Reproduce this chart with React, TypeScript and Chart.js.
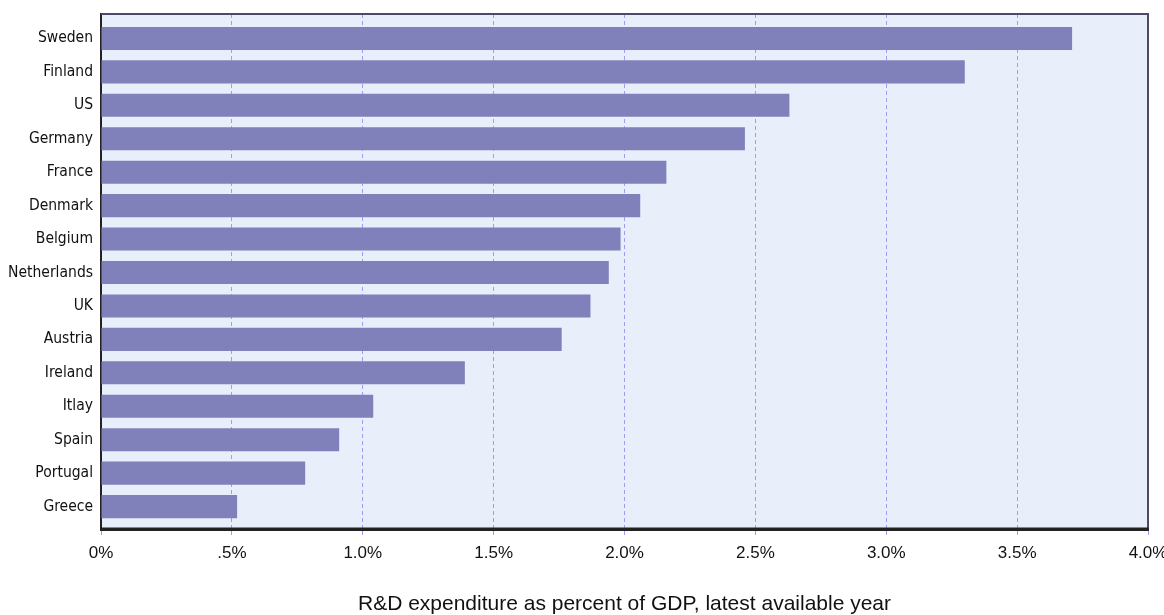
import React, { useEffect, useRef } from "react";
import { Chart, registerables } from "chart.js";

Chart.register(...registerables);

const categories = [
  "Sweden", "Finland", "US", "Germany", "France", "Denmark", "Belgium",
  "Netherlands", "UK", "Austria", "Ireland", "Itlay", "Spain", "Portugal", "Greece",
];
const rdShare = [3.71, 3.3, 2.63, 2.46, 2.16, 2.06, 1.985, 1.94, 1.87, 1.76, 1.39, 1.04, 0.91, 0.78, 0.52];
const xTickLabels = ["0%", ".5%", "1.0%", "1.5%", "2.0%", "2.5%", "3.0%", "3.5%", "4.0%"];
const axisTitle = "R&D expenditure as percent of GDP, latest available year";

const BAR = "#8080ba";
const PLOT_BG = "#e8eefa";
const GRID = "#a09cf0";

const frame = {
  id: "frame",
  beforeDraw(chart: any) {
    const { ctx, chartArea: a } = chart;
    ctx.save();
    ctx.fillStyle = PLOT_BG;
    ctx.fillRect(a.left, a.top, a.right - a.left, a.bottom - a.top);
    ctx.restore();
  },
  afterDraw(chart: any) {
    const { ctx, chartArea: a } = chart;
    ctx.save();
    ctx.strokeStyle = "#4a4a6a";
    ctx.lineWidth = 2;
    ctx.beginPath();
    ctx.moveTo(a.left, a.top);
    ctx.lineTo(a.right, a.top);
    ctx.lineTo(a.right, a.bottom);
    ctx.stroke();
    ctx.strokeStyle = "#222";
    ctx.lineWidth = 3;
    ctx.beginPath();
    ctx.moveTo(a.left, a.bottom);
    ctx.lineTo(a.right + 1, a.bottom);
    ctx.stroke();
    ctx.restore();
  },
};

export default function App() {
  const ref = useRef<HTMLCanvasElement>(null);
  useEffect(() => {
    if (!ref.current) return;
    const chart = new Chart(ref.current, {
      type: "bar",
      data: {
        datasets: [
          {
            data: rdShare.map((v, i) => ({ x: v, y: i })),
            backgroundColor: BAR,
            borderWidth: 0,
            barPercentage: 0.69,
            categoryPercentage: 1,
          },
        ],
      },
      options: {
        indexAxis: "y",
        animation: false,
        responsive: true,
        maintainAspectRatio: false,
        layout: { padding: { top: 14, right: 16, left: 0, bottom: 0 } },
        plugins: { legend: { display: false }, tooltip: { enabled: false } },
        scales: {
          x: {
            type: "linear",
            min: 0,
            max: 4,
            ticks: {
              stepSize: 0.5,
              padding: 8,
              color: "#111",
              font: { family: "'Liberation Sans', Arial, sans-serif", size: 17 },
              callback: (_v: any, i: number) => xTickLabels[i],
              maxRotation: 0,
            },
            grid: {
              color: GRID,
              lineWidth: 1,
              tickLength: 6,
              tickColor: GRID,
            },
            border: { display: true, color: "#222", width: 3, dash: [4, 3] },
            title: {
              display: true,
              text: axisTitle,
              color: "#111",
              font: { family: "'Liberation Sans', Arial, sans-serif", size: 21 },
              padding: { top: 0, bottom: -2 },
            },
            afterFit: (s: any) => {
              s.height = 86;
              s.paddingLeft = 0;
              s.paddingRight = 0;
            },
          } as any,
          y: {
            type: "linear",
            reverse: true,
            offset: false,
            min: -0.73,
            max: 14.67,
            afterBuildTicks: (s: any) => {
              s.ticks = categories.map((_, i) => ({ value: i }));
            },
            ticks: {
              padding: 8,
              color: "#111",
              font: { family: "'DejaVu Sans Condensed', 'Liberation Sans Narrow', sans-serif", size: 15.5 },
              callback: (v: any) => categories[v],
            },
            grid: { display: false, drawTicks: false, offset: false },
            border: { display: true, color: "#222", width: 2 },
            afterFit: (s: any) => {
              s.width = 101;
              s.paddingTop = 0;
              s.paddingBottom = 0;
            },
          } as any,
        },
      },
      plugins: [frame],
    } as any);
    return () => chart.destroy();
  }, []);
  return (
    <div style={{ position: "absolute", left: 0, top: 0, width: 1164, height: 615 }}>
      <canvas ref={ref} />
    </div>
  );
}
